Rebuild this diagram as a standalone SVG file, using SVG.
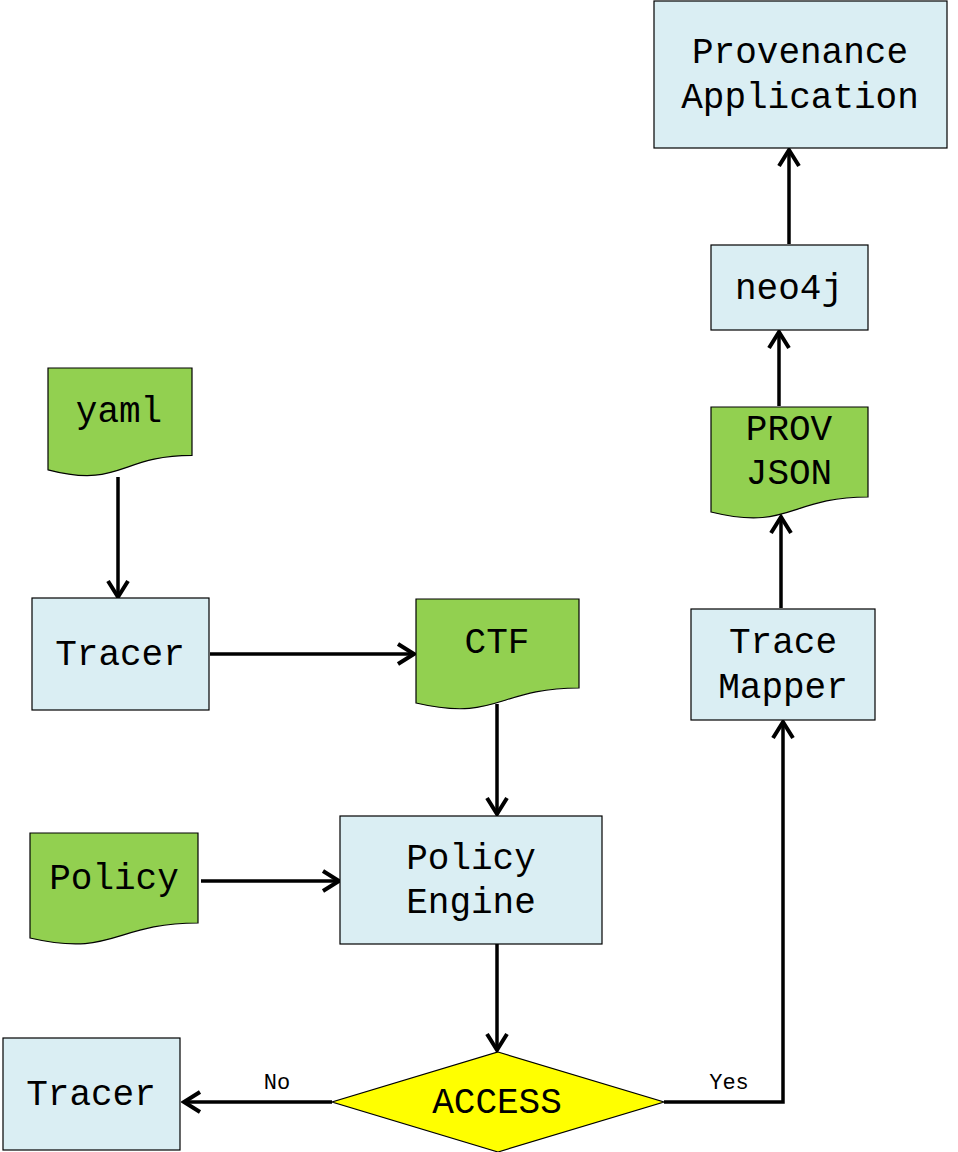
<svg xmlns="http://www.w3.org/2000/svg" width="958" height="1152" viewBox="0 0 958 1152">
<style>
.box{fill:#DAEEF3;stroke:#000;stroke-width:1.2}
.doc{fill:#92D050;stroke:#000;stroke-width:1.2}
.dia{fill:#FFFF00;stroke:#000;stroke-width:1.2}
.t{font-family:"Liberation Mono","Courier New",monospace;font-size:36px;fill:#000;text-anchor:middle;dominant-baseline:central}
.lb{font-family:"Liberation Mono","Courier New",monospace;font-size:22px;fill:#000;text-anchor:middle}
.c{fill:none;stroke:#000;stroke-width:3.5;marker-end:url(#ah)}
</style>
<defs>
<marker id="ah" markerUnits="userSpaceOnUse" markerWidth="22" markerHeight="26" viewBox="0 0 22 26" refX="19" refY="13" orient="auto">
<path d="M3,3 L19,13 L3,23" fill="none" stroke="#000" stroke-width="4"/>
</marker>
</defs>
<rect width="958" height="1152" fill="#fff"/>
<g id="connectors">
<path class="c" d="M118,477 V597"/>
<path class="c" d="M210,654 H414"/>
<path class="c" d="M497,704 V814"/>
<path class="c" d="M201,881 H339"/>
<path class="c" d="M497,944 V1050"/>
<path class="c" d="M332,1102 H184"/>
<path class="c" d="M664,1102 H783 V722"/>
<path class="c" d="M781,608 V517"/>
<path class="c" d="M779,406 V332"/>
<path class="c" d="M789,244 V150"/>
<text class="lb" x="277" y="1089">No</text>
<text class="lb" x="729" y="1089">Yes</text>
</g>
<g id="provenance">
<rect class="box" x="654" y="1" width="293" height="147"/>
<text class="t" x="800" y="53">Provenance</text>
<text class="t" x="800" y="98">Application</text>
</g>
<g id="neo4j">
<rect class="box" x="711" y="245" width="157" height="85"/>
<text class="t" x="789" y="289">neo4j</text>
</g>
<g id="provjson">
<path class="doc" d="M711,407 H868 V497 C789.5,497 789.5,531.4 711,512 Z"/>
<text class="t" x="789" y="430">PROV</text>
<text class="t" x="789" y="474">JSON</text>
</g>
<g id="tracemapper">
<rect class="box" x="691" y="609" width="184" height="111"/>
<text class="t" x="783" y="643">Trace</text>
<text class="t" x="783" y="688">Mapper</text>
</g>
<g id="yaml">
<path class="doc" d="M48,368 H192 V455.4 C120,455.4 120,488.7 48,469.8 Z"/>
<text class="t" x="119" y="412">yaml</text>
</g>
<g id="tracer1">
<rect class="box" x="32" y="598" width="177" height="112"/>
<text class="t" x="120" y="655">Tracer</text>
</g>
<g id="ctf">
<path class="doc" d="M416,599 H579 V688 C497.5,688 497.5,722 416,703 Z"/>
<text class="t" x="497" y="643">CTF</text>
</g>
<g id="policy">
<path class="doc" d="M30,833 H198 V923 C114,923 114,957.5 30,938 Z"/>
<text class="t" x="114" y="879">Policy</text>
</g>
<g id="policyengine">
<rect class="box" x="340" y="816" width="262" height="128"/>
<text class="t" x="471" y="859">Policy</text>
<text class="t" x="471" y="903">Engine</text>
</g>
<g id="access">
<polygon class="dia" points="498,1052 664,1102 498,1152 332,1102"/>
<text class="t" x="497" y="1103">ACCESS</text>
</g>
<g id="tracer2">
<rect class="box" x="3" y="1038" width="177" height="112"/>
<text class="t" x="91" y="1095">Tracer</text>
</g>
</svg>
